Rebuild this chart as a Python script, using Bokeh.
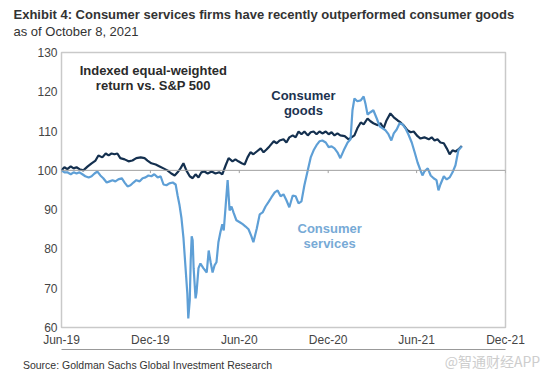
import pandas as pd
from bokeh.plotting import figure
from bokeh.models import (Label, Title, Span, FixedTicker, LinearAxis,
                          DatetimeTickFormatter, Range1d, ColumnDataSource)
from bokeh.embed import file_html
from bokeh.resources import INLINE

# ---------------- data ----------------
goods_dates = [
    "2019-06-01", "2019-06-07", "2019-06-13", "2019-06-20", "2019-06-26", "2019-07-02",
    "2019-07-08", "2019-07-16", "2019-07-25", "2019-08-02", "2019-08-10", "2019-08-16",
    "2019-08-24", "2019-08-31", "2019-09-06", "2019-09-12", "2019-09-18", "2019-09-24",
    "2019-09-30", "2019-10-09", "2019-10-17", "2019-10-25", "2019-11-02", "2019-11-11",
    "2019-11-19", "2019-11-25", "2019-12-03", "2019-12-12", "2019-12-20", "2019-12-28",
    "2020-01-05", "2020-01-13", "2020-01-20", "2020-01-26", "2020-02-01", "2020-02-07",
    "2020-02-13", "2020-02-20", "2020-02-26", "2020-03-03", "2020-03-09", "2020-03-15",
    "2020-03-21", "2020-03-28", "2020-04-05", "2020-04-13", "2020-04-21", "2020-04-27",
    "2020-05-04", "2020-05-10", "2020-05-18", "2020-05-24", "2020-05-30", "2020-06-06",
    "2020-06-12", "2020-06-18", "2020-06-24", "2020-06-30", "2020-07-07", "2020-07-15",
    "2020-07-21", "2020-07-27", "2020-08-02", "2020-08-11", "2020-08-17", "2020-08-23",
    "2020-08-31", "2020-09-06", "2020-09-12", "2020-09-19", "2020-09-25", "2020-10-01",
    "2020-10-07", "2020-10-13", "2020-10-20", "2020-10-26", "2020-11-01", "2020-11-07",
    "2020-11-13", "2020-11-19", "2020-11-26", "2020-12-02", "2020-12-08", "2020-12-14",
    "2020-12-20", "2020-12-26", "2021-01-04", "2021-01-12", "2021-01-18", "2021-01-24",
    "2021-01-30", "2021-02-06", "2021-02-12", "2021-02-20", "2021-02-26", "2021-03-04",
    "2021-03-13", "2021-03-19", "2021-03-25", "2021-03-31", "2021-04-08", "2021-04-15",
    "2021-04-23", "2021-04-29", "2021-05-05", "2021-05-13", "2021-05-20", "2021-05-26",
    "2021-06-03", "2021-06-09", "2021-06-17", "2021-06-26", "2021-07-02", "2021-07-08",
    "2021-07-14", "2021-07-20", "2021-07-27", "2021-08-02", "2021-08-08", "2021-08-14",
    "2021-08-20", "2021-08-26", "2021-09-02",
]
goods_values = [
    100.0, 100.8, 100.3, 101.0, 100.5, 100.8, 100.3, 100.0, 101.0, 101.8, 102.5, 103.8,
    103.3, 104.3, 103.8, 104.3, 104.1, 104.3, 103.1, 102.8, 102.3, 102.5, 103.1, 103.3,
    103.1, 102.5, 101.8, 101.5, 101.0, 100.5, 100.0, 99.2, 98.7, 99.5, 100.5, 101.8,
    100.0, 98.5, 98.0, 99.0, 98.2, 99.5, 99.7, 99.2, 99.7, 99.2, 99.5, 99.0,
    101.3, 103.1, 102.3, 102.8, 102.3, 101.8, 101.5, 103.3, 104.6, 104.1, 104.8, 105.6,
    104.6, 105.3, 106.1, 107.4, 106.9, 107.6, 107.9, 107.1, 108.4, 108.9, 108.4, 109.9,
    109.2, 109.9, 108.9, 109.7, 109.9, 109.2, 109.9, 109.4, 109.9, 109.2, 109.7, 108.9,
    109.4, 108.9, 108.7, 107.9, 108.4, 108.9, 110.7, 112.2, 111.7, 113.2, 112.5, 112.0,
    111.5, 112.0, 110.7, 112.7, 114.5, 113.5, 112.7, 112.2, 111.5, 110.2, 109.7, 109.9,
    108.7, 108.1, 108.4, 107.9, 108.4, 107.6, 107.9, 107.1, 106.9, 105.6, 104.1, 105.1,
    104.8, 105.3, 106.2,
]

services_dates = [
    "2019-06-01", "2019-06-07", "2019-06-13", "2019-06-20", "2019-06-26", "2019-07-02",
    "2019-07-08", "2019-07-14", "2019-07-20", "2019-07-27", "2019-08-02", "2019-08-08",
    "2019-08-14", "2019-08-20", "2019-08-26", "2019-09-02", "2019-09-08", "2019-09-14",
    "2019-09-20", "2019-09-26", "2019-10-03", "2019-10-09", "2019-10-15", "2019-10-21",
    "2019-10-27", "2019-11-02", "2019-11-09", "2019-11-15", "2019-11-21", "2019-11-27",
    "2019-12-03", "2019-12-09", "2019-12-16", "2019-12-22", "2019-12-28", "2020-01-03",
    "2020-01-09", "2020-01-16", "2020-01-22", "2020-01-26", "2020-01-30", "2020-02-03",
    "2020-02-07", "2020-02-11", "2020-02-15", "2020-02-17", "2020-02-20", "2020-02-22",
    "2020-02-24", "2020-02-26", "2020-02-28", "2020-03-03", "2020-03-05", "2020-03-09",
    "2020-03-13", "2020-03-19", "2020-03-26", "2020-03-30", "2020-04-03", "2020-04-07",
    "2020-04-11", "2020-04-15", "2020-04-19", "2020-04-23", "2020-04-27", "2020-04-30",
    "2020-05-04", "2020-05-08", "2020-05-12", "2020-05-16", "2020-05-20", "2020-05-26",
    "2020-06-02", "2020-06-08", "2020-06-14", "2020-06-20", "2020-06-26", "2020-06-30",
    "2020-07-07", "2020-07-13", "2020-07-19", "2020-07-25", "2020-07-31", "2020-08-06",
    "2020-08-13", "2020-08-19", "2020-08-25", "2020-08-31", "2020-09-06", "2020-09-12",
    "2020-09-19", "2020-09-25", "2020-10-01", "2020-10-07", "2020-10-13", "2020-10-20",
    "2020-10-26", "2020-11-01", "2020-11-07", "2020-11-13", "2020-11-19", "2020-11-26",
    "2020-12-02", "2020-12-08", "2020-12-14", "2020-12-20", "2020-12-26", "2021-01-02",
    "2021-01-10", "2021-01-16", "2021-01-20", "2021-01-24", "2021-01-30", "2021-02-06",
    "2021-02-12", "2021-02-16", "2021-02-20", "2021-02-26", "2021-03-04", "2021-03-11",
    "2021-03-17", "2021-03-23", "2021-03-29", "2021-04-04", "2021-04-10", "2021-04-15",
    "2021-04-21", "2021-04-27", "2021-05-03", "2021-05-09", "2021-05-15", "2021-05-22",
    "2021-05-28", "2021-06-03", "2021-06-09", "2021-06-13", "2021-06-17", "2021-06-24",
    "2021-06-30", "2021-07-06", "2021-07-12", "2021-07-16", "2021-07-20", "2021-07-27",
    "2021-08-02", "2021-08-08", "2021-08-14", "2021-08-20", "2021-08-26", "2021-09-02",
]
services_values = [
    100.0, 99.5, 99.5, 99.0, 99.5, 99.2, 99.5, 99.0, 98.5, 98.2, 98.5, 99.2,
    99.7, 98.7, 98.0, 96.9, 97.2, 97.5, 97.2, 97.7, 98.0, 96.9, 95.9, 96.2,
    96.9, 97.5, 97.2, 98.0, 98.2, 98.7, 98.5, 99.0, 98.2, 98.5, 96.4, 96.2,
    96.7, 96.9, 96.4, 93.6, 91.1, 87.8, 82.9, 75.8, 68.7, 62.3, 66.9, 77.1,
    83.2, 82.2, 75.1, 67.4, 68.9, 75.1, 76.3, 75.1, 74.0, 79.6, 76.6, 74.0,
    75.8, 76.6, 81.7, 84.2, 86.3, 84.7, 91.1, 97.5, 89.8, 90.8, 89.3, 87.3,
    86.8, 86.3, 85.7, 85.0, 83.2, 81.7, 85.2, 88.8, 89.3, 90.8, 91.9, 93.1,
    94.4, 94.9, 93.4, 93.9, 92.4, 90.6, 93.6, 93.4, 91.6, 92.1, 96.2, 100.0,
    103.3, 105.1, 106.4, 107.4, 107.6, 107.1, 105.9, 106.1, 105.6, 104.6, 103.1, 105.1,
    107.1, 107.9, 115.3, 118.3, 117.6, 117.8, 118.8, 116.8, 114.2, 114.8, 115.3, 113.2,
    111.2, 110.7, 110.2, 109.2, 107.6, 109.4, 110.4, 112.0, 111.7, 110.7, 109.2, 107.1,
    104.6, 102.0, 100.0, 98.7, 99.7, 100.5, 98.7, 98.0, 97.5, 94.9, 96.4, 98.5,
    97.7, 98.2, 99.5, 101.3, 105.1, 106.1,
]

x_tick_dates = ["2019-06-01", "2019-12-01", "2020-06-01", "2020-12-01",
                "2021-06-01", "2021-12-01"]
y_ticks = [60, 70, 80, 90, 100, 110, 120, 130]

title_text = "Exhibit 4: Consumer services firms have recently outperformed consumer goods"
subtitle_text = "as of October 8, 2021"
source_text = "Source: Goldman Sachs Global Investment Research"
source_anchor = "2019-11-25"       # where the source line is centred along the axis
watermark_text = "@智通财经APP"
watermark_anchor = "2021-11-04"
note_lines = ["Indexed equal-weighted", "return vs. S&P 500"]
goods_label = ["Consumer", "goods"]
services_label = ["Consumer", "services"]

# ---------------- helpers ----------------
def ms(s):
    return pd.Timestamp(s).value / 1e6

GOODS = "#14304f"
SERV = "#5e9fd6"
SERV_TXT = "#77aad6"
FONT = "Liberation Sans"

gsrc = ColumnDataSource(dict(x=pd.to_datetime(goods_dates), y=goods_values))
ssrc = ColumnDataSource(dict(x=pd.to_datetime(services_dates), y=services_values))

x_start, x_end = ms(x_tick_dates[0]), ms(x_tick_dates[-1])

p = figure(width=556, height=379, x_axis_type="datetime",
           x_range=Range1d(x_start, x_end),
           y_range=Range1d(y_ticks[0], y_ticks[-1]),
           output_backend="svg", toolbar_location=None,
           min_border_left=61, min_border_right=51,
           min_border_top=52, min_border_bottom=52)

p.grid.visible = False
p.outline_line_color = "#c9c9c9"
p.outline_line_width = 1.5
p.background_fill_color = "white"
p.border_fill_color = "white"

# axes
p.yaxis.ticker = FixedTicker(ticks=y_ticks)
p.yaxis.axis_line_color = None
p.yaxis.major_tick_line_color = None
p.yaxis.minor_tick_line_color = None
p.yaxis.major_tick_out = 0
p.yaxis.major_label_text_font = FONT
p.yaxis.major_label_text_font_size = "12px"
p.yaxis.major_label_text_color = "#444444"
p.yaxis.major_label_standoff = 4

p.xaxis.ticker = FixedTicker(ticks=[ms(d) for d in x_tick_dates])
p.xaxis.formatter = DatetimeTickFormatter(months="%b-%y", days="%b-%y", years="%b-%y")
p.xaxis.axis_line_color = None
p.xaxis.major_tick_line_color = None
p.xaxis.minor_tick_line_color = None
p.xaxis.major_tick_out = 0
p.xaxis.major_label_text_font = FONT
p.xaxis.major_label_text_font_size = "12px"
p.xaxis.major_label_text_color = "#444444"
p.xaxis.major_label_standoff = 5

# rule below the tick labels, carrying the source line
src_tick = ms(source_anchor)
rule = LinearAxis(ticker=FixedTicker(ticks=[src_tick]),
                  bounds=(x_start, x_end),
                  major_label_overrides={src_tick: source_text},
                  major_label_text_font=FONT,
                  major_label_text_font_size="10.5px",
                  major_label_text_color="#333333",
                  major_tick_line_color=None, minor_tick_line_color=None,
                  major_tick_out=0, major_tick_in=0, major_label_standoff=9,
                  axis_line_color="#999999", axis_line_width=1.2)
p.add_layout(rule, "below")

# watermark pulled up next to the source line
wm_tick = ms(watermark_anchor)
wm = LinearAxis(ticker=FixedTicker(ticks=[wm_tick]),
                major_label_overrides={wm_tick: watermark_text},
                major_label_text_font="Noto Sans CJK SC",
                major_label_text_font_size="14px",
                major_label_text_color="#cdcdcd",
                major_tick_line_color=None, minor_tick_line_color=None,
                major_tick_out=0, major_tick_in=0, major_label_standoff=-23,
                axis_line_color=None)
p.add_layout(wm, "below")

# titles (a tiny blank spacer keeps the subtitle off the frame)
p.add_layout(Title(text=" ", standoff=11, text_font_size="1px"), "above")
p.add_layout(Title(text=subtitle_text, align="left", offset=-48, standoff=0,
                   text_font=FONT, text_font_size="13px", text_font_style="normal",
                   text_color="#333333"), "above")
p.add_layout(Title(text=title_text, align="left", offset=-48, standoff=0,
                   text_font=FONT, text_font_size="13px", text_font_style="bold",
                   text_color="#333333"), "above")

# 100 reference line with small ticks
p.add_layout(Span(location=100, dimension="width", line_color="#a0a0a0", line_width=1))
p.segment(x0=pd.to_datetime(x_tick_dates), x1=pd.to_datetime(x_tick_dates),
          y0=100, y1=99.3, line_color="#a0a0a0", line_width=1)

# series
p.line("x", "y", source=gsrc, line_color=GOODS, line_width=2.2)
p.line("x", "y", source=ssrc, line_color=SERV, line_width=2.2)

# in-chart labels
def lab(x, y, t, color):
    p.add_layout(Label(x=ms(x), y=y, text=t, text_font=FONT, text_font_size="13px",
                       text_font_style="bold", text_color=color, text_align="center",
                       text_baseline="middle"))

lab("2019-12-07", 125.4, note_lines[0], "#2b2b2b")
lab("2019-12-07", 121.6, note_lines[1], "#2b2b2b")
lab("2020-10-11", 119.1, goods_label[0], "#1c3350")
lab("2020-10-11", 115.3, goods_label[1], "#1c3350")
lab("2020-12-04", 85.2, services_label[0], SERV_TXT)
lab("2020-12-04", 81.4, services_label[1], SERV_TXT)

open("out.html", "w").write(file_html(p, INLINE))
